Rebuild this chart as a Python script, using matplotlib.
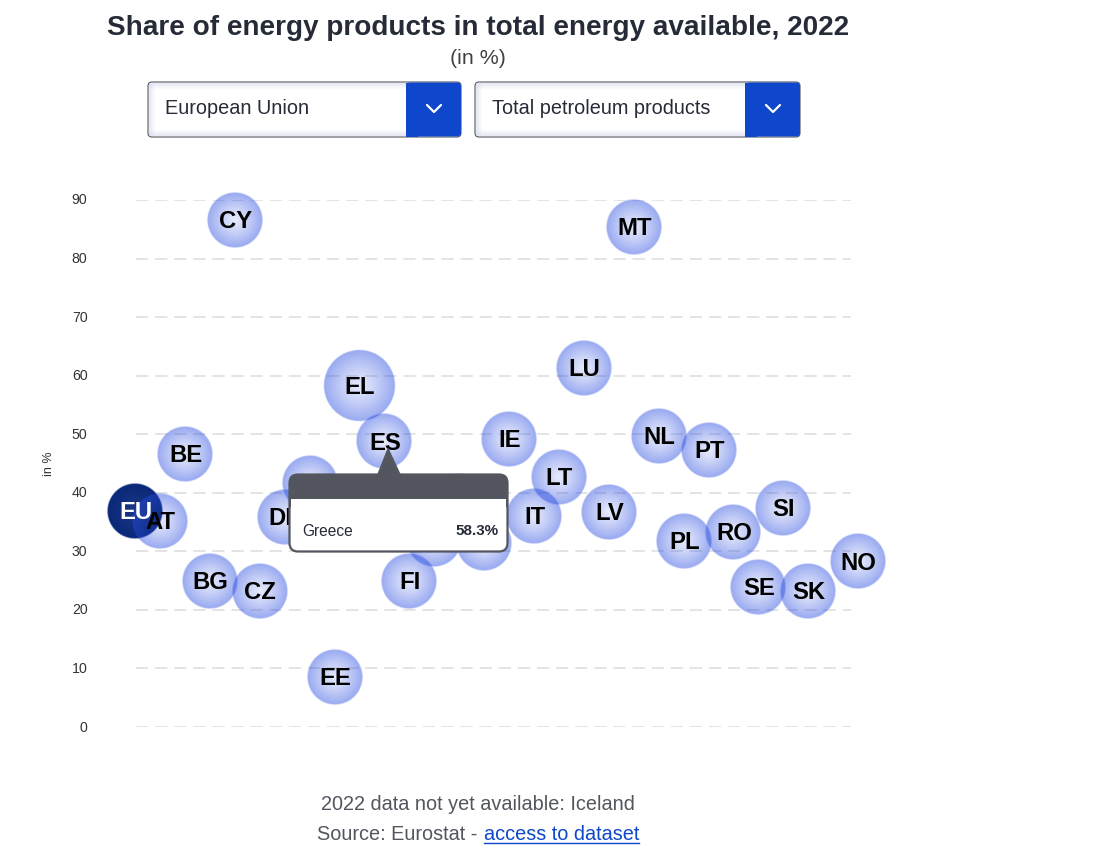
import numpy as np
import matplotlib
matplotlib.use("Agg")
import matplotlib.pyplot as plt
from matplotlib.patches import FancyBboxPatch, Polygon, Rectangle
from matplotlib.transforms import ScaledTranslation

plt.rcParams['font.family'] = ['Liberation Sans', 'DejaVu Sans']

# Values, share of total petroleum products (%)
codes = ['EU', 'AT', 'BE', 'BG', 'CY', 'CZ', 'DE', 'DK', 'EE', 'EL', 'ES', 'FI', 'FR', 'HR', 'HU',
         'IE', 'IT', 'LT', 'LU', 'LV', 'MT', 'NL', 'PL', 'PT', 'RO', 'SE', 'SI', 'SK', 'IS', 'NO']
shares = [36.9, 35.2, 46.6, 24.9, 86.6, 23.2, 35.9, 41.7, 8.5, 58.3, 48.8, 24.9, 32.0, 38.6, 31.4,
          49.2, 36.0, 42.7, 61.3, 36.7, 85.4, 49.7, 31.8, 47.3, 33.3, 23.9, 37.4, 23.2, np.nan, 28.3]
y_ticks = [0, 10, 20, 30, 40, 50, 60, 70, 80, 90]

W, H = 1097, 848
fig = plt.figure(figsize=(W / 100, H / 100), dpi=100)

# Plot area, pixel box of the gridlines
left, right, top, bottom = 136, 851, 200, 727
ax = fig.add_axes([left / W, 1 - bottom / H, (right - left) / W, (bottom - top) / H])
step = 24.93
x_min, x_max = (left - 135) / step, (right - 135) / step
for s in ax.spines.values():
    s.set_visible(False)


# Bubble with a radial gradient that gets more opaque to the rim
def bubble(x, y, radius_px, rgb, a_in, a_out, z):
    rx = radius_px / step
    ry = radius_px / ((bottom - top) / 90)
    n = 160
    u, v = np.meshgrid(np.linspace(-1.05, 1.05, n), np.linspace(-1.05, 1.05, n))
    d = np.sqrt(u ** 2 + v ** 2)
    img = np.zeros((n, n, 4))
    img[..., :3] = np.array(rgb) / 255
    mask = np.clip((1 - d) * radius_px + 0.5, 0, 1)
    img[..., 3] = (a_in + (a_out - a_in) * np.clip(d, 0, 1) ** 1.2) * mask
    ax.imshow(img, extent=[x - 1.05 * rx, x + 1.05 * rx, y - 1.05 * ry, y + 1.05 * ry],
              aspect='auto', zorder=z, clip_on=False, interpolation='bilinear')


for i, (code, val) in enumerate(zip(codes, shares)):
    if np.isnan(val):
        continue
    if code == 'EU':
        bubble(i, val, 27.5, (8, 38, 120), 0.93, 1.0, 3)
    elif code == 'EL':
        bubble(i, val, 35.5, (40, 75, 225), 0.12, 0.48, 3)
    else:
        bubble(i, val, 27.5, (40, 75, 225), 0.12, 0.48, 3)
    ax.text(i + 0.03, val - 0.3, code, ha='center', va='center', fontsize=17.2, fontweight='bold',
            color='white' if code == 'EU' else 'black', zorder=5)

ax.set_xlim(x_min, x_max)
ax.set_ylim(0, 90)
ax.set_xticks([])
ax.set_yticks(y_ticks)
ax.tick_params(axis='y', length=0, pad=35, labelsize=10.2, labelcolor='#333333')
ax.grid(axis='y', color='#dcdcdc', lw=1.1, linestyle=(0, (8, 4.5)))
ax.set_axisbelow(True)
for lbl in ax.get_yticklabels():
    lbl.set_clip_on(False)
    lbl.set_transform(lbl.get_transform() + ScaledTranslation(0, 0.01, fig.dpi_scale_trans))

# Overlay in pixel coordinates for title, dropdowns, tooltip and footer
ov = fig.add_axes([0, 0, 1, 1], zorder=10)
ov.set_xlim(0, W)
ov.set_ylim(H, 0)
ov.axis('off')
ov.patch.set_alpha(0)

ov.text(478, 28, 'Share of energy products in total energy available, 2022', ha='center', va='center',
        fontsize=20.1, fontweight='bold', color='#262b38')
ov.text(478, 58, '(in %)', ha='center', va='center', fontsize=15.4, color='#404040')
ov.text(49, 464, 'in %', ha='center', va='center', rotation=90, fontsize=9, color='#333333')


def dropdown(x0, x1, label):
    ov.add_patch(FancyBboxPatch((x0 + 4, 82 + 4), x1 - x0 - 8, 47, boxstyle='round,pad=4', fc='white',
                                ec='#53565f', lw=0.8))
    # soft inner shadow at top, left and bottom
    for k in range(6):
        fade = 0.45 * (1 - k / 6)
        ov.add_patch(Rectangle((x0 + 1, 83 + k), x1 - x0 - 56, 1, fc='#c9cfe6', ec='none', alpha=fade))
        ov.add_patch(Rectangle((x0 + 1, 135 - k), x1 - x0 - 56, 1, fc='#c9cfe6', ec='none', alpha=fade))
        ov.add_patch(Rectangle((x0 + 1 + k, 84), 1, 51, fc='#c9cfe6', ec='none', alpha=fade))
    ov.add_patch(FancyBboxPatch((x1 - 55 + 4, 82.5 + 4), 47, 46, boxstyle='round,pad=4', fc='#0e47cb', ec='none'))
    ov.add_patch(Rectangle((x1 - 55, 82.5), 12, 54, fc='#0e47cb', ec='none'))
    ov.plot([x1 - 34, x1 - 27, x1 - 20], [105, 112, 105], color='white', lw=1.6, solid_capstyle='round')
    ov.text(x0 + 17, 108.5, label, ha='left', va='center', fontsize=14.3, color='#262b38')


dropdown(148, 461, 'European Union')
dropdown(475, 800, 'Total petroleum products')

# Tooltip of the hovered bubble
tip_dark = '#53565f'
ov.add_patch(FancyBboxPatch((298, 483), 201, 60, boxstyle='round,pad=8.5', fc='white', ec=tip_dark, lw=1.6))
ov.add_patch(FancyBboxPatch((297, 482), 203, 20, boxstyle='round,pad=8', fc=tip_dark, ec='none'))
ov.add_patch(Rectangle((289.5, 490), 218, 9, fc=tip_dark, ec='none'))
ov.add_patch(Rectangle((291, 499), 215, 12, fc='white', ec='none'))
ov.add_patch(Polygon([(377, 475), (388, 447), (401, 475)], fc=tip_dark, ec='none'))
ov.text(302, 531, 'Greece', ha='left', va='center', fontsize=11.2, color='#262b38')
ov.text(499, 531, '58.3%', ha='right', va='center', fontsize=10.9, fontweight='bold', color='#262b38')

# Footer
ov.text(478, 805, '2022 data not yet available: Iceland', ha='center', va='center', fontsize=14.3, color='#53565f')
ov.text(317, 835, 'Source: Eurostat - ', ha='left', va='center', fontsize=14.3, color='#53565f')
ov.text(484, 835, 'access to dataset', ha='left', va='center', fontsize=14.3, color='#0e47cb')
ov.plot([484, 639], [843, 843], color='#0e47cb', lw=1)

fig.savefig('out.png', dpi=100)
